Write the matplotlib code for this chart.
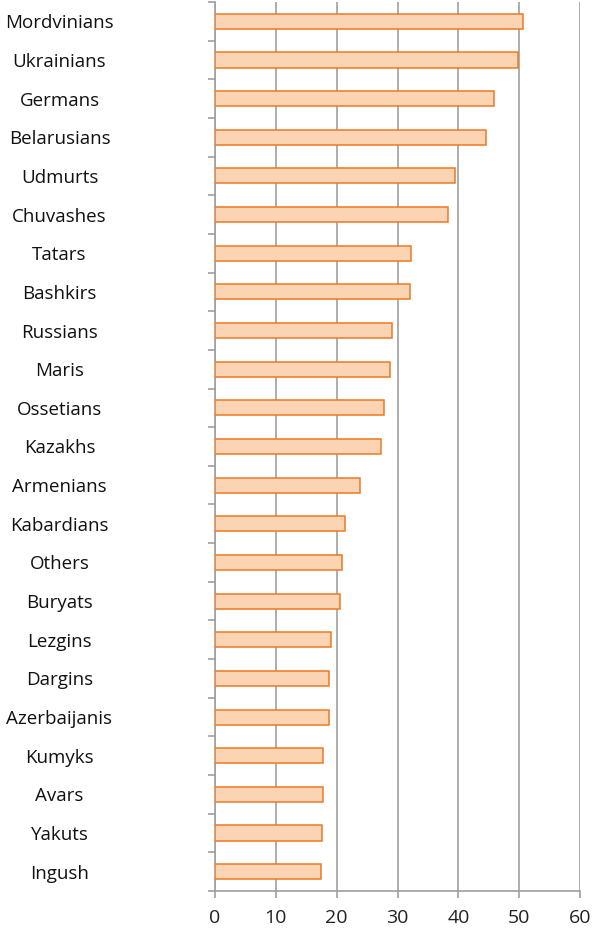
import numpy as np
import matplotlib.pyplot as plt

groups = ["Mordvinians", "Ukrainians", "Germans", "Belarusians", "Udmurts",
          "Chuvashes", "Tatars", "Bashkirs", "Russians", "Maris", "Ossetians",
          "Kazakhs", "Armenians", "Kabardians", "Others", "Buryats", "Lezgins",
          "Dargins", "Azerbaijanis", "Kumyks", "Avars", "Yakuts", "Ingush"]
values = [50.6, 49.8, 45.8, 44.5, 39.5, 38.3, 32.2, 32.1, 29.1, 28.8, 27.8,
          27.3, 23.8, 21.4, 20.9, 20.6, 19.1, 18.8, 18.8, 17.8, 17.7, 17.6, 17.4]
xticks = [0, 10, 20, 30, 40, 50, 60]

plt.rcParams['font.family'] = ['Open Sans', 'DejaVu Sans']

fig = plt.figure(figsize=(5.92, 9.30), dpi=100)
ax = fig.add_axes([215 / 592, 1 - 891 / 930, 365 / 592, 889 / 930])

pos = np.arange(len(groups))
ax.barh(pos, values, height=0.39, color='#FBD4B4', edgecolor='#F07820',
        linewidth=1.1, zorder=3)

ax.set_xlim(0, 60)
ax.set_ylim(len(groups) - 0.5, -0.5)
ax.set_xticks(xticks)
ax.set_xticklabels([str(t) for t in xticks], fontsize=14, color='#222222')

ax.set_yticks(pos)
ax.set_yticklabels(groups, fontsize=13.5, color='#111111', ha='center')
ax.set_yticks(np.arange(len(groups) + 1) - 0.5, minor=True)
ax.tick_params(axis='y', which='major', length=0, pad=112)
ax.tick_params(axis='y', which='minor', length=5, width=1.2, color='#A0A0A0')
ax.tick_params(axis='x', length=5, width=1.2, color='#A0A0A0', pad=8)

ax.grid(axis='x', color='#A0A0A0', linewidth=1.2, zorder=0)
for side in ['top', 'right']:
    ax.spines[side].set_visible(False)
for side in ['left', 'bottom']:
    ax.spines[side].set_color('#A0A0A0')
    ax.spines[side].set_linewidth(1.2)

fig.savefig('out.png', dpi=100)
